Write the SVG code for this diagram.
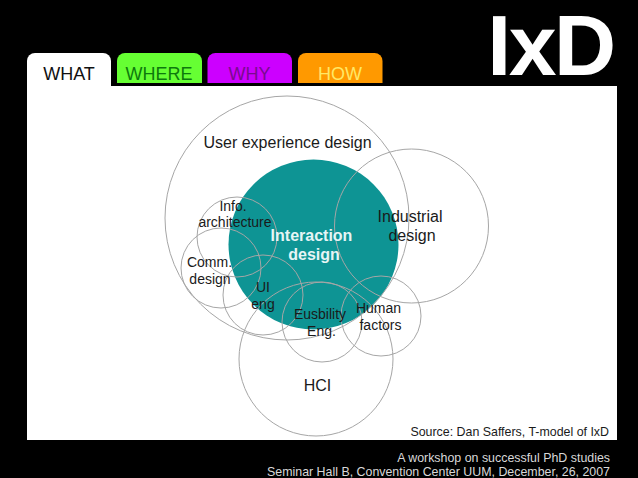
<svg xmlns="http://www.w3.org/2000/svg" width="638" height="478" viewBox="0 0 638 478">
<style>
text{font-family:"Liberation Sans",Arial,sans-serif;text-anchor:middle}
.ring{fill:none;stroke:#a6a6a6;stroke-width:1}
.lab{font-size:16px;fill:#1a1a1a}
.sm{font-size:14px;fill:#1a1a1a}
.tab{font-size:18px}
.foot{font-size:12.400px;fill:#d9d9d9;text-anchor:end}
</style>
<rect width="638" height="478" fill="#000"/>
<g id="tabs">
<g id="tab-what"><path d="M27 86V61a8 8 0 0 1 8-8H103a8 8 0 0 1 8 8V86Z" fill="#fff"/><text class="tab" x="69" y="79.500" fill="#111">WHAT</text></g>
<g id="tab-where"><path d="M117 83V61a8 8 0 0 1 8-8H194a8 8 0 0 1 8 8V83Z" fill="#66ff33"/><text class="tab" x="159" y="79.500" fill="#0d7a0d">WHERE</text></g>
<g id="tab-why"><path d="M207.500 83V61a8 8 0 0 1 8-8H284a8 8 0 0 1 8 8V83Z" fill="#cc00ff"/><text class="tab" x="249.500" y="79.500" fill="#7a0a8f">WHY</text></g>
<g id="tab-how"><path d="M298 83V61a8 8 0 0 1 8-8H374.500a8 8 0 0 1 8 8V83Z" fill="#ff9900"/><text class="tab" x="340" y="79.500" fill="#ffe866">HOW</text></g>
</g>
<text id="title" x="550.500" y="75" font-size="86" font-weight="700" fill="#fff" letter-spacing="-2.500">IxD</text>
<rect id="panel" x="27" y="86" width="590" height="354" fill="#fff"/>
<g id="interaction"><circle cx="313.500" cy="244.500" r="85" fill="#0e9494"/></g>
<g id="connectors">
<circle id="user-experience" class="ring" cx="287" cy="218" r="122"/>
<circle id="industrial" class="ring" cx="411.500" cy="226" r="77"/>
<circle id="hci" class="ring" cx="316" cy="359" r="77"/>
<circle id="info" class="ring" cx="237" cy="237" r="40"/>
<circle id="comm" class="ring" cx="221" cy="268" r="40"/>
<circle id="ui" class="ring" cx="263" cy="295" r="40"/>
<circle id="eusbility" class="ring" cx="322" cy="322" r="40"/>
<circle id="human" class="ring" cx="381" cy="316" r="40"/>
</g>
<g id="labels">
<text class="lab" x="287.500" y="148">User experience design</text>
<text class="sm" x="233" y="211">Info.</text>
<text class="sm" x="235" y="227">architecture</text>
<text class="lab" x="410" y="222">Industrial</text>
<text class="lab" x="412" y="241">design</text>
<text x="311.500" y="241" font-size="16" font-weight="700" fill="#e6f5f5">Interaction</text>
<text x="314" y="260" font-size="16" font-weight="700" fill="#e6f5f5">design</text>
<text class="sm" x="209.500" y="267">Comm.</text>
<text class="sm" x="210" y="284">design</text>
<text class="sm" x="263" y="292">UI</text>
<text class="sm" x="263" y="309">eng</text>
<text class="sm" x="320" y="318.500">Eusbility</text>
<text class="sm" x="321.500" y="336">Eng.</text>
<text class="sm" x="378.500" y="313">Human</text>
<text class="sm" x="380.500" y="330">factors</text>
<text class="lab" x="317.500" y="391">HCI</text>
<text x="609" y="435.500" font-size="12.400" fill="#1a1a1a" style="text-anchor:end">Source: Dan Saffers, T-model of IxD</text>
</g>
<g id="footer">
<text class="foot" x="610" y="462">A workshop on successful PhD studies</text>
<text class="foot" x="610" y="475.500">Seminar Hall B, Convention Center UUM, December, 26, 2007</text>
</g>
</svg>
